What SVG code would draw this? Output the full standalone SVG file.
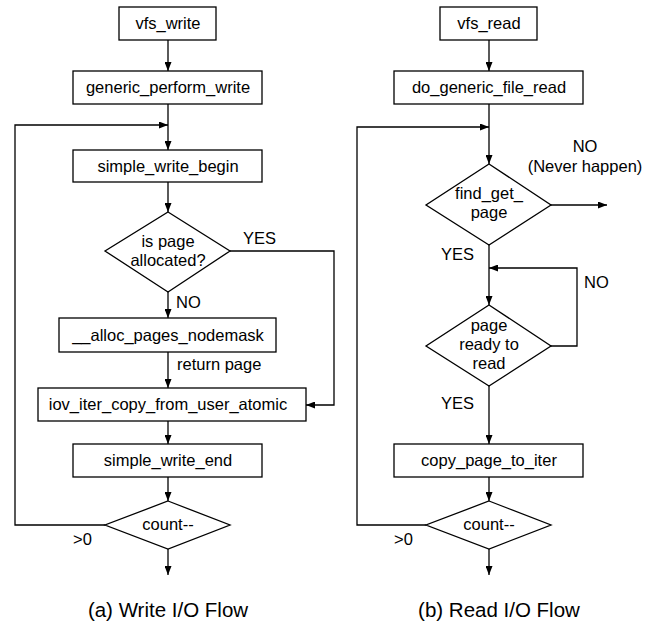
<svg xmlns="http://www.w3.org/2000/svg" width="657" height="625" viewBox="0 0 657 625">
<defs>
<marker id="ah" markerUnits="userSpaceOnUse" markerWidth="9" markerHeight="7" refX="9" refY="3.5" orient="auto">
<path d="M0,0 L9,3.5 L0,7 z" fill="#000"/>
</marker>
<style>
.box{fill:#fff;stroke:#000;stroke-width:1.3}
.t{font-family:"Liberation Sans",Arial,sans-serif;font-size:16.5px;fill:#000;text-anchor:middle}
.l{font-family:"Liberation Sans",Arial,sans-serif;font-size:16.5px;fill:#000}
.cap{font-family:"Liberation Sans",Arial,sans-serif;font-size:20.5px;fill:#000;text-anchor:middle}
.c{fill:none;stroke:#000;stroke-width:1.3}
.a{fill:none;stroke:#000;stroke-width:1.3;marker-end:url(#ah)}
</style>
</defs>
<rect width="657" height="625" fill="#fff"/>
<g id="connectors">
<!-- left -->
<line class="a" x1="168" y1="40" x2="168" y2="71"/>
<line class="a" x1="168" y1="104" x2="168" y2="150"/>
<polyline class="a" points="105,525 15,525 15,125 168,125"/>
<line class="a" x1="168" y1="182" x2="168" y2="212"/>
<polyline class="a" points="230,251 334,251 334,405 306,405"/>
<line class="a" x1="168" y1="292" x2="168" y2="318"/>
<line class="a" x1="168" y1="352" x2="168" y2="388"/>
<line class="a" x1="168" y1="421" x2="168" y2="444"/>
<line class="a" x1="168" y1="477" x2="168" y2="501"/>
<line class="a" x1="168" y1="549" x2="168" y2="575"/>
<!-- right -->
<line class="a" x1="489" y1="40" x2="489" y2="71"/>
<line class="a" x1="489" y1="104" x2="489" y2="164"/>
<polyline class="a" points="426,525 357,525 357,127 489,127"/>
<line class="a" x1="551" y1="205" x2="607" y2="205"/>
<line class="a" x1="489" y1="245" x2="489" y2="305"/>
<polyline class="a" points="551,346 577,346 577,268 489,268"/>
<line class="a" x1="489" y1="386" x2="489" y2="444"/>
<line class="a" x1="489" y1="477" x2="489" y2="501"/>
<line class="a" x1="489" y1="549" x2="489" y2="575"/>
<!-- labels -->
<text class="l" x="243" y="244">YES</text>
<text class="l" x="176" y="308">NO</text>
<text class="l" x="177" y="370">return page</text>
<text class="l" x="73" y="545">&gt;0</text>
<text class="t" x="585" y="152">NO</text>
<text class="t" x="585" y="172">(Never happen)</text>
<text class="l" x="441" y="260">YES</text>
<text class="l" x="584" y="288">NO</text>
<text class="l" x="441" y="409">YES</text>
<text class="l" x="394" y="545">&gt;0</text>
</g>
<g id="vfs_write"><rect class="box" x="119" y="7" width="97" height="33"/><text class="t" x="168" y="29">vfs_write</text></g>
<g id="generic_perform_write"><rect class="box" x="73" y="71" width="189" height="33"/><text class="t" x="168" y="93">generic_perform_write</text></g>
<g id="simple_write_begin"><rect class="box" x="73" y="150" width="189" height="32"/><text class="t" x="168" y="172">simple_write_begin</text></g>
<g id="is_page_allocated"><polygon class="box" points="168,212 230,251 168,292 105,251"/><text class="t" x="168" y="247">is page</text><text class="t" x="168" y="266">allocated?</text></g>
<g id="alloc_pages_nodemask"><rect class="box" x="59" y="318" width="217" height="34"/><text class="t" x="168" y="341">__alloc_pages_nodemask</text></g>
<g id="iov_iter_copy_from_user_atomic"><rect class="box" x="38" y="388" width="268" height="33"/><text class="t" x="168" y="410">iov_iter_copy_from_user_atomic</text></g>
<g id="simple_write_end"><rect class="box" x="73" y="444" width="189" height="33"/><text class="t" x="168" y="466">simple_write_end</text></g>
<g id="count_write"><polygon class="box" points="168,501 230,525 168,549 105,525"/><text class="t" x="168" y="530">count--</text></g>
<g id="vfs_read"><rect class="box" x="440" y="7" width="97" height="33"/><text class="t" x="489" y="29">vfs_read</text></g>
<g id="do_generic_file_read"><rect class="box" x="394" y="71" width="189" height="33"/><text class="t" x="489" y="93">do_generic_file_read</text></g>
<g id="find_get_page"><polygon class="box" points="489,164 551,205 489,245 426,205"/><text class="t" x="489" y="199">find_get_</text><text class="t" x="489" y="218">page</text></g>
<g id="page_ready_to_read"><polygon class="box" points="489,305 551,346 489,386 426,346"/><text class="t" x="489" y="331">page</text><text class="t" x="489" y="350">ready to</text><text class="t" x="489" y="369">read</text></g>
<g id="copy_page_to_iter"><rect class="box" x="394" y="444" width="189" height="33"/><text class="t" x="489" y="466">copy_page_to_iter</text></g>
<g id="count_read"><polygon class="box" points="489,501 551,525 489,549 426,525"/><text class="t" x="489" y="530">count--</text></g>
<g id="captions"><text class="cap" x="168" y="617">(a) Write I/O Flow</text><text class="cap" x="499" y="617">(b) Read I/O Flow</text></g>
</svg>
